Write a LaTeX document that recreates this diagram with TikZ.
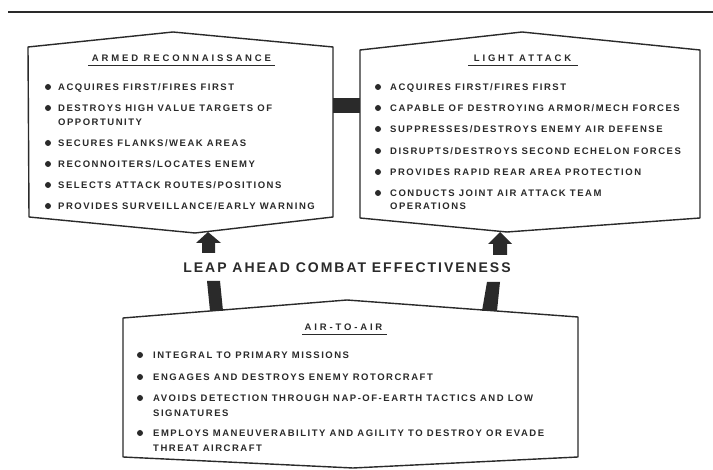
\documentclass[tikz,border=0pt]{standalone}
\usepackage{fontspec}
\setmainfont{Liberation Sans}
\newfontfamily\itemfont[LetterSpace=16]{Liberation Sans Bold}
\newfontfamily\titlefont[LetterSpace=30]{Liberation Sans Bold}
\newfontfamily\bigfont[LetterSpace=14]{Liberation Sans Bold}
\definecolor{ink}{HTML}{2A2A2A}
\newcommand\bitem[5]{%
  \fill[ink] (#2,#4) circle (3pt);
  \node[itm] (#1) at (#3,{#4+3.4}) {#5};}
\newcommand\citem[4]{%
  \node[itm] (#1) at (#2,{#3+3.4}) {#4};}
\begin{document}
\begin{tikzpicture}[x=1pt,y=-1pt,
  box/.style={draw=ink, line width=1.4pt, line join=round, fill=white},
  itm/.style={anchor=base west, inner sep=0pt, text=ink, font=\itemfont\fontsize{9.5}{11}\selectfont},
  ttl/.style={anchor=base, inner sep=0pt, text=ink, font=\titlefont\fontsize{9.5}{11}\selectfont},
  uline/.style={draw=ink, line width=1.1pt},
  solid arrow/.style={fill=ink}]
\useasboundingbox[fill=white] (0,0) rectangle (713,470);
% top rule
\draw[ink, line width=2pt] (8,12) -- (713,12);
% boxes
\draw[box] (28,47) -- (173,32) -- (333,47) -- (333,217) -- (195,233) -- (29,217) -- cycle;
\draw[box] (360,50) -- (522,32) -- (700,50) -- (700,218) -- (507,232) -- (360,218) -- cycle;
\draw[box] (123,318) -- (347,300) -- (578,317) -- (578,457) -- (353,468) -- (123,457) -- cycle;
% connector bar between the top boxes
\fill[ink] (333,98) rectangle (360,113);
% titles
\node[ttl] (tA) at (181.5,61.4) {ARMED RECONNAISSANCE};
\node[ttl] (tL) at (522.5,61.4) {LIGHT ATTACK};
\node[ttl] (tR) at (343.5,330.4) {AIR-TO-AIR};
\draw[uline] (88,65.5) -- (275,65.5);
\draw[uline] (468,65.5) -- (578,65.5);
\draw[uline] (302,334.5) -- (387,334.5);
% left box items
\bitem{a1}{48}{58}{87}{ACQUIRES FIRST/FIRES FIRST}
\bitem{a2}{48}{58}{108}{DESTROYS HIGH VALUE TARGETS OF}
\citem{a2b}{58}{122}{OPPORTUNITY}
\bitem{a3}{48}{58}{143}{SECURES FLANKS/WEAK AREAS}
\bitem{a4}{48}{58}{164}{RECONNOITERS/LOCATES ENEMY}
\bitem{a5}{48}{58}{185}{SELECTS ATTACK ROUTES/POSITIONS}
\bitem{a6}{48}{58}{206}{PROVIDES SURVEILLANCE/EARLY WARNING}
% right box items
\bitem{l1}{378}{390}{87}{ACQUIRES FIRST/FIRES FIRST}
\bitem{l2}{378}{390}{108}{CAPABLE OF DESTROYING ARMOR/MECH FORCES}
\bitem{l3}{378}{390}{129}{SUPPRESSES/DESTROYS ENEMY AIR DEFENSE}
\bitem{l4}{378}{390}{151}{DISRUPTS/DESTROYS SECOND ECHELON FORCES}
\bitem{l5}{378}{390}{172}{PROVIDES RAPID REAR AREA PROTECTION}
\bitem{l6}{378}{390}{193}{CONDUCTS JOINT AIR ATTACK TEAM}
\citem{l6b}{390}{206}{OPERATIONS}
% bottom box items
\bitem{r1}{140}{153}{355}{INTEGRAL TO PRIMARY MISSIONS}
\bitem{r2}{140}{153}{377}{ENGAGES AND DESTROYS ENEMY ROTORCRAFT}
\bitem{r3}{140}{153}{398}{AVOIDS DETECTION THROUGH NAP-OF-EARTH TACTICS AND LOW}
\citem{r3b}{153}{413}{SIGNATURES}
\bitem{r4}{140}{153}{433}{EMPLOYS MANEUVERABILITY AND AGILITY TO DESTROY OR EVADE}
\citem{r4b}{153}{448}{THREAT AIRCRAFT}
% central caption
\node[anchor=base, inner sep=0pt, text=ink, font=\bigfont\fontsize{14}{16}\selectfont] (cap) at (347,273) {LEAP AHEAD COMBAT EFFECTIVENESS};
% arrows
\fill[solid arrow] (208,232) -- (221,243) -- (215,243) -- (215,253) -- (202,253) -- (202,243) -- (196,243) -- cycle;
\fill[solid arrow] (207,281) -- (220,281) -- (223,311) -- (210,311) -- cycle;
\fill[solid arrow] (500,232) -- (512,244) -- (507,244) -- (507,255) -- (493,255) -- (493,244) -- (488,244) -- cycle;
\fill[solid arrow] (487,282) -- (500,282) -- (497,311) -- (482,311) -- cycle;
\end{tikzpicture}
\end{document}
